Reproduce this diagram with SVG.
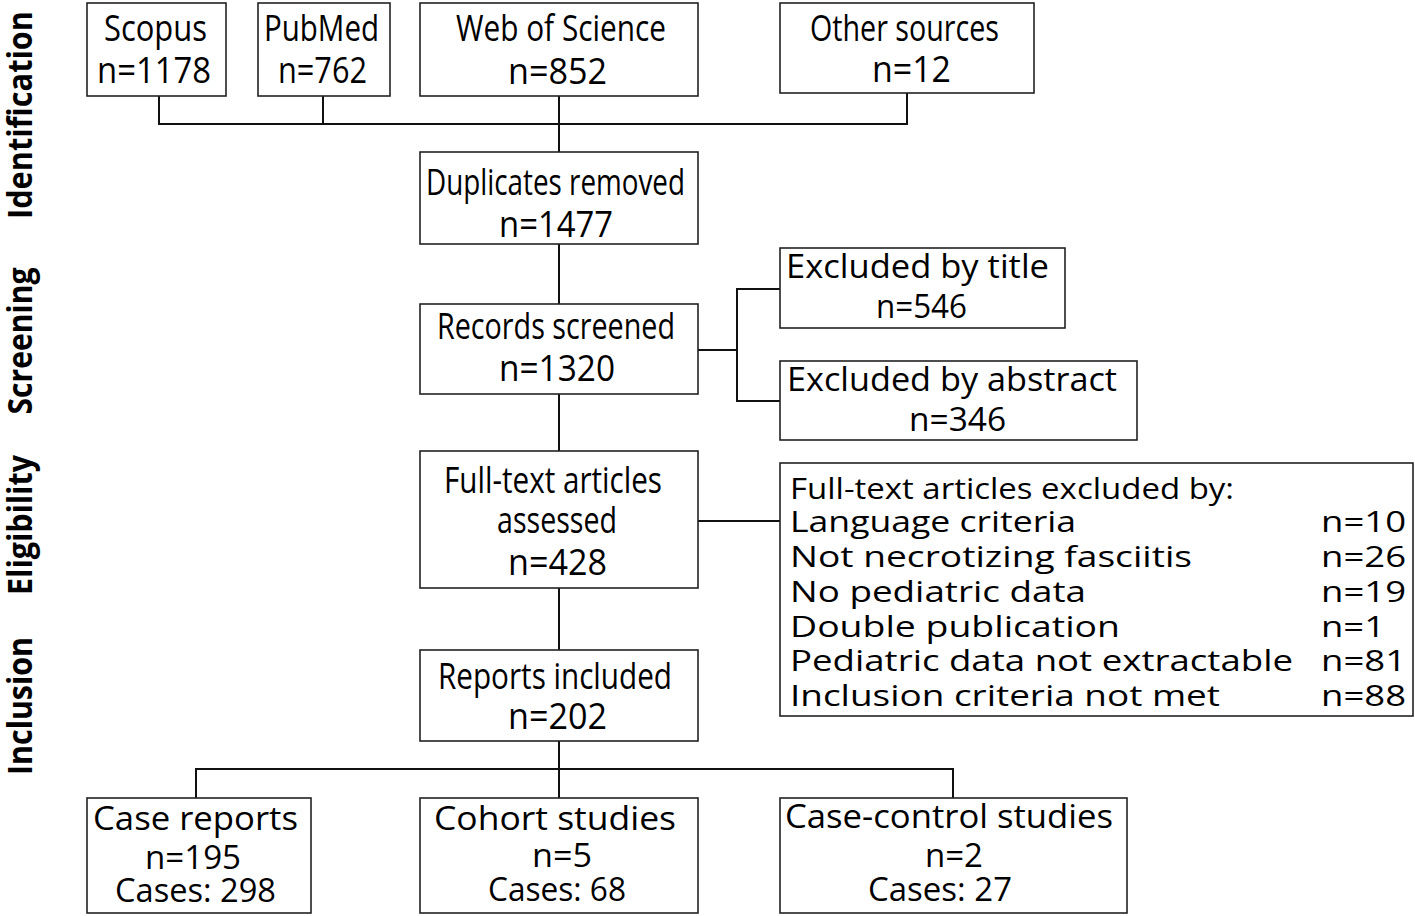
<svg xmlns="http://www.w3.org/2000/svg" width="1415" height="916" viewBox="0 0 1415 916">
<style>
.box{fill:#fff;stroke:#222;stroke-width:1.6}
.ln{fill:none;stroke:#111;stroke-width:2}
text{font-family:"Open Sans","Noto Sans","DejaVu Sans",sans-serif;fill:#000}
.c{font-size:36px;text-anchor:middle}
.s{font-size:33px;text-anchor:middle}
.m{font-size:32px;text-anchor:middle}
.l{font-size:30px}
.side{font-size:34px;font-weight:bold;text-anchor:middle}
</style>
<rect width="1415" height="916" fill="#fff"/>
<g id="side-labels">
<text class="side" transform="translate(32,115) rotate(-90)" textLength="208" lengthAdjust="spacingAndGlyphs">Identification</text>
<text class="side" transform="translate(32,341) rotate(-90)" textLength="147" lengthAdjust="spacingAndGlyphs">Screening</text>
<text class="side" transform="translate(32,525) rotate(-90)" textLength="140" lengthAdjust="spacingAndGlyphs">Eligibility</text>
<text class="side" transform="translate(32,706) rotate(-90)" textLength="138" lengthAdjust="spacingAndGlyphs">Inclusion</text>
</g>
<g id="connectors">
<path class="ln" d="M159,96V124H907V93M323,96V124M559,96V152"/>
<path class="ln" d="M559,244V304"/>
<path class="ln" d="M698,350H737M780,289H737V401H780"/>
<path class="ln" d="M559,394V451"/>
<path class="ln" d="M698,521H780"/>
<path class="ln" d="M559,588V650"/>
<path class="ln" d="M559,741V798M196,798V769H953V798"/>
</g>
<g id="scopus">
<rect class="box" x="87" y="3" width="139" height="93"/>
<text class="c" x="155.5" y="41" textLength="103" lengthAdjust="spacingAndGlyphs">Scopus</text>
<text class="c" x="154" y="83" textLength="114" lengthAdjust="spacingAndGlyphs">n=1178</text>
</g>
<g id="pubmed">
<rect class="box" x="258" y="3" width="132" height="93"/>
<text class="c" x="321.5" y="41" textLength="115" lengthAdjust="spacingAndGlyphs">PubMed</text>
<text class="c" x="322.5" y="83" textLength="89" lengthAdjust="spacingAndGlyphs">n=762</text>
</g>
<g id="wos">
<rect class="box" x="420" y="3" width="278" height="93"/>
<text class="c" x="561" y="41" textLength="210" lengthAdjust="spacingAndGlyphs">Web of Science</text>
<text class="c" x="557.5" y="84" textLength="99" lengthAdjust="spacingAndGlyphs">n=852</text>
</g>
<g id="other">
<rect class="box" x="780" y="3" width="254" height="90"/>
<text class="c" x="904.5" y="41" textLength="189" lengthAdjust="spacingAndGlyphs">Other sources</text>
<text class="c" x="911.5" y="82" textLength="79" lengthAdjust="spacingAndGlyphs">n=12</text>
</g>
<g id="duplicates">
<rect class="box" x="420" y="152" width="278" height="92"/>
<text class="c" x="555.5" y="195" textLength="259" lengthAdjust="spacingAndGlyphs">Duplicates removed</text>
<text class="c" x="556" y="237" textLength="114" lengthAdjust="spacingAndGlyphs">n=1477</text>
</g>
<g id="screened">
<rect class="box" x="420" y="304" width="278" height="90"/>
<text class="c" x="556" y="339" textLength="238" lengthAdjust="spacingAndGlyphs">Records screened</text>
<text class="c" x="557" y="381" textLength="116" lengthAdjust="spacingAndGlyphs">n=1320</text>
</g>
<g id="excl-title">
<rect class="box" x="780" y="248" width="285" height="80"/>
<text class="m" x="917.5" y="278" textLength="263" lengthAdjust="spacingAndGlyphs">Excluded by title</text>
<text class="m" x="921.5" y="318" textLength="91" lengthAdjust="spacingAndGlyphs">n=546</text>
</g>
<g id="excl-abstract">
<rect class="box" x="780" y="361" width="357" height="79"/>
<text class="m" x="952" y="391" textLength="330" lengthAdjust="spacingAndGlyphs">Excluded by abstract</text>
<text class="m" x="957.5" y="431" textLength="97" lengthAdjust="spacingAndGlyphs">n=346</text>
</g>
<g id="fulltext">
<rect class="box" x="420" y="451" width="278" height="137"/>
<text class="c" x="553" y="493" textLength="218" lengthAdjust="spacingAndGlyphs">Full-text articles</text>
<text class="c" x="557" y="533" textLength="120" lengthAdjust="spacingAndGlyphs">assessed</text>
<text class="c" x="557.5" y="575" textLength="99" lengthAdjust="spacingAndGlyphs">n=428</text>
</g>
<g id="excl-fulltext">
<rect class="box" x="780" y="463" width="633" height="253"/>
<text class="l" x="790" y="499" textLength="444" lengthAdjust="spacingAndGlyphs">Full-text articles excluded by:</text>
<text class="l" x="790" y="532" textLength="286" lengthAdjust="spacingAndGlyphs">Language criteria</text>
<text class="l" x="790" y="567" textLength="402" lengthAdjust="spacingAndGlyphs">Not necrotizing fasciitis</text>
<text class="l" x="790" y="602" textLength="296" lengthAdjust="spacingAndGlyphs">No pediatric data</text>
<text class="l" x="790" y="637" textLength="330" lengthAdjust="spacingAndGlyphs">Double publication</text>
<text class="l" x="790" y="671" textLength="503" lengthAdjust="spacingAndGlyphs">Pediatric data not extractable</text>
<text class="l" x="790" y="706" textLength="430" lengthAdjust="spacingAndGlyphs">Inclusion criteria not met</text>
<text class="l" x="1321" y="532" textLength="85" lengthAdjust="spacingAndGlyphs">n=10</text>
<text class="l" x="1321" y="567" textLength="85" lengthAdjust="spacingAndGlyphs">n=26</text>
<text class="l" x="1321" y="602" textLength="85" lengthAdjust="spacingAndGlyphs">n=19</text>
<text class="l" x="1321" y="637" textLength="64" lengthAdjust="spacingAndGlyphs">n=1</text>
<text class="l" x="1321" y="671" textLength="85" lengthAdjust="spacingAndGlyphs">n=81</text>
<text class="l" x="1321" y="706" textLength="85" lengthAdjust="spacingAndGlyphs">n=88</text>
</g>
<g id="included">
<rect class="box" x="420" y="650" width="278" height="91"/>
<text class="c" x="555" y="689" textLength="234" lengthAdjust="spacingAndGlyphs">Reports included</text>
<text class="c" x="557.5" y="729" textLength="99" lengthAdjust="spacingAndGlyphs">n=202</text>
</g>
<g id="case-reports">
<rect class="box" x="87" y="798" width="224" height="115"/>
<text class="m" x="195.5" y="830" textLength="205" lengthAdjust="spacingAndGlyphs">Case reports</text>
<text class="s" x="193" y="869" textLength="96" lengthAdjust="spacingAndGlyphs">n=195</text>
<text class="s" x="195.5" y="902" textLength="161" lengthAdjust="spacingAndGlyphs">Cases: 298</text>
</g>
<g id="cohort">
<rect class="box" x="420" y="798" width="278" height="115"/>
<text class="m" x="555" y="830" textLength="242" lengthAdjust="spacingAndGlyphs">Cohort studies</text>
<text class="s" x="562" y="867" textLength="60" lengthAdjust="spacingAndGlyphs">n=5</text>
<text class="s" x="557" y="901" textLength="138" lengthAdjust="spacingAndGlyphs">Cases: 68</text>
</g>
<g id="case-control">
<rect class="box" x="780" y="798" width="347" height="115"/>
<text class="m" x="949" y="828" textLength="328" lengthAdjust="spacingAndGlyphs">Case-control studies</text>
<text class="s" x="954" y="867" textLength="58" lengthAdjust="spacingAndGlyphs">n=2</text>
<text class="s" x="940" y="901" textLength="144" lengthAdjust="spacingAndGlyphs">Cases: 27</text>
</g>
</svg>
